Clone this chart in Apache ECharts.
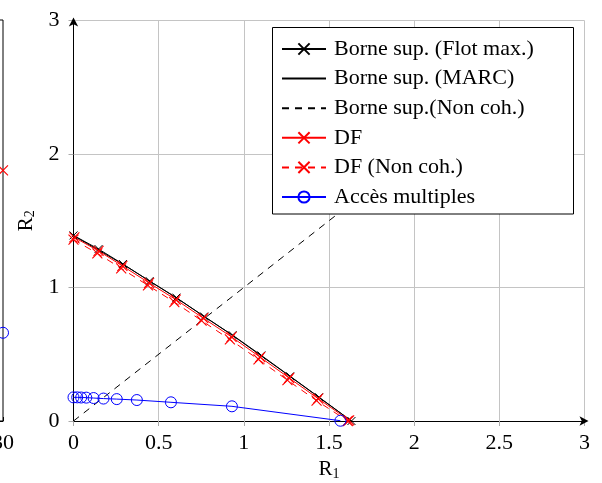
<!DOCTYPE html>
<html>
<head>
<meta charset="utf-8">
<script src="https://cdn.jsdelivr.net/npm/echarts@6/dist/echarts.min.js"></script>
<style>
  html, body { margin: 0; padding: 0; background: #fff; }
  #chart { width: 602px; height: 483px; }
</style>
</head>
<body>
<div id="chart"></div>
<script>
// Axis ticks
const xTicks = [0, 0.5, 1, 1.5, 2, 2.5, 3];
const yTicks = [0, 1, 2, 3];

// Upper bound (max-flow), with markers
const flotMaxX = [0, 0.147, 0.29, 0.447, 0.604, 0.767, 0.934, 1.103, 1.272, 1.442, 1.632];
const flotMaxY = [1.39, 1.288, 1.176, 1.048, 0.924, 0.783, 0.643, 0.491, 0.335, 0.178, 0.0];

// Upper bound (MARC)
const marcX = [0, 0.29, 0.604, 0.934, 1.272, 1.632];
const marcY = [1.388, 1.174, 0.922, 0.641, 0.333, 0.0];

// Upper bound, non-coherent
const nonCohX = [0, 2.5];
const nonCohY = [0, 2.5];

// DF
const dfX = [0.005, 0.147, 0.287, 0.444, 0.600, 0.762, 0.928, 1.096, 1.266, 1.436, 1.618];
const dfY = [1.375, 1.274, 1.162, 1.034, 0.910, 0.770, 0.630, 0.478, 0.322, 0.168, 0.005];

// DF, non-coherent
const dfNcX = [0, 0.140, 0.280, 0.437, 0.592, 0.752, 0.918, 1.086, 1.256, 1.427, 1.610];
const dfNcY = [1.358, 1.256, 1.143, 1.016, 0.891, 0.752, 0.611, 0.461, 0.306, 0.153, 0.0];

// Multiple access
const maX = [0, 0.022, 0.045, 0.075, 0.118, 0.176, 0.254, 0.372, 0.572, 0.930, 1.567];
const maY = [0.177, 0.177, 0.176, 0.175, 0.172, 0.168, 0.164, 0.157, 0.140, 0.110, 0.002];

// Neighbouring panel (right end of its x range)
const sideX = [30];
const sideDfY = [2.5];
const sideMaY = [0.88];
const sideXTicks = [0, 10, 20, 30];

const names = [
  'Borne sup. (Flot max.)',
  'Borne sup. (MARC)',
  'Borne sup.(Non coh.)',
  'DF',
  'DF (Non coh.)',
  'Accès multiples'
];

const zip = (xs, ys) => xs.map((x, i) => [x, ys[i]]);
const FONT = 'Liberation Serif';
const crossPath = 'path://M0,0L10,10M10,0L0,10';
const gridGray = '#c4c4c4';
const clear = 'rgba(0,0,0,0)';
const dash = [7, 6];

const chart = echarts.init(document.getElementById('chart'), null, { renderer: 'canvas' });

const subRich = { s: { fontFamily: FONT, fontSize: 14, color: '#000', verticalAlign: 'bottom', padding: [9, 0, 0, 0] } };

const mainXAxis = {
  gridIndex: 0, type: 'value', min: xTicks[0], max: xTicks[xTicks.length - 1], interval: 0.5,
  name: 'R{s|1}', nameLocation: 'middle', nameGap: 35,
  nameTextStyle: { fontFamily: FONT, fontSize: 21, color: '#000', rich: subRich },
  axisLine: { show: true, lineStyle: { color: '#000', width: 1 }, symbol: ['none', 'arrow'], symbolSize: [7, 9], symbolOffset: [0, 4] },
  axisTick: { show: true, length: 5, lineStyle: { color: '#aaa' } },
  axisLabel: { fontFamily: FONT, fontSize: 22, color: '#000', margin: 11, formatter: v => String(v) },
  splitLine: { show: true, lineStyle: { color: gridGray, width: 1 } }
};

const mainYAxis = {
  gridIndex: 0, type: 'value', min: yTicks[0], max: yTicks[yTicks.length - 1], interval: 1,
  name: 'R{s|2}', nameLocation: 'middle', nameGap: 35, nameRotate: 90,
  nameTextStyle: { fontFamily: FONT, fontSize: 21, color: '#000', rich: subRich },
  axisLine: { show: true, lineStyle: { color: '#000', width: 1 }, symbol: ['none', 'arrow'], symbolSize: [7, 9], symbolOffset: [0, 3] },
  axisTick: { show: true, length: 5, lineStyle: { color: '#aaa' } },
  axisLabel: { fontFamily: FONT, fontSize: 22, color: '#000', margin: 14 },
  splitLine: { show: true, lineStyle: { color: gridGray, width: 1 } }
};

const redCross = { color: '#ff0000', borderColor: '#ff0000', borderWidth: 1.1 };
const blueRing = { color: clear, borderColor: '#0000ff', borderWidth: 1 };

const option = {
  animation: false,
  backgroundColor: '#fff',
  grid: [
    { left: 73.5, right: 17.5, top: 20.5, bottom: 62, containLabel: false, outerBoundsMode: 'none' },
    { left: -197, width: 200, top: 20, bottom: 62, show: true, borderColor: '#000', borderWidth: 1,
      backgroundColor: 'transparent', containLabel: false, outerBoundsMode: 'none' }
  ],
  xAxis: [
    mainXAxis,
    {
      gridIndex: 1, type: 'value', min: sideXTicks[0], max: sideXTicks[sideXTicks.length - 1], interval: 10,
      axisLine: { show: true, lineStyle: { color: '#000' } },
      axisTick: { show: true, inside: true, length: 4, lineStyle: { color: '#000' } },
      axisLabel: { fontFamily: FONT, fontSize: 22, color: '#000', margin: 11 },
      splitLine: { show: false }
    }
  ],
  yAxis: [
    mainYAxis,
    {
      gridIndex: 1, type: 'value', position: 'right', min: 0, max: 4, interval: 1,
      axisLine: { show: true, lineStyle: { color: '#000' } },
      axisTick: { show: true, inside: true, length: 4, lineStyle: { color: '#000' } },
      axisLabel: { show: false },
      splitLine: { show: false }
    }
  ],
  legend: {
    orient: 'vertical', left: 281, top: 38, padding: 0, z: 6,
    itemWidth: 44, itemHeight: 14, itemGap: 7.6,
    textStyle: { fontFamily: FONT, fontSize: 22, color: '#000', padding: [0, 0, 0, 3] },
    data: names
  },
  graphic: [{
    type: 'rect', z: 4,
    shape: { x: 272.5, y: 27.5, width: 301, height: 186.5 },
    style: { fill: '#fff', stroke: '#000', lineWidth: 1 }
  }],
  series: [
    {
      name: names[0], type: 'line', xAxisIndex: 0, yAxisIndex: 0, z: 3,
      data: zip(flotMaxX, flotMaxY),
      symbol: crossPath, symbolSize: 8,
      lineStyle: { color: '#000', width: 1 },
      itemStyle: { color: '#000', borderColor: '#000', borderWidth: 1 }
    },
    {
      name: names[1], type: 'line', xAxisIndex: 0, yAxisIndex: 0, z: 3,
      data: zip(marcX, marcY), symbol: 'circle', showSymbol: false,
      lineStyle: { color: '#000', width: 1 },
      itemStyle: { color: clear, borderColor: clear, borderWidth: 0 }
    },
    {
      name: names[2], type: 'line', xAxisIndex: 0, yAxisIndex: 0, z: 2,
      data: zip(nonCohX, nonCohY), symbol: 'circle', showSymbol: false,
      lineStyle: { color: '#000', width: 1, type: dash },
      itemStyle: { color: clear, borderColor: clear, borderWidth: 0 }
    },
    {
      name: names[3], type: 'line', xAxisIndex: 0, yAxisIndex: 0, z: 3,
      data: zip(dfX, dfY),
      symbol: crossPath, symbolSize: 10,
      lineStyle: { color: '#ff0000', width: 1 },
      itemStyle: redCross
    },
    {
      name: names[4], type: 'line', xAxisIndex: 0, yAxisIndex: 0, z: 3,
      data: zip(dfNcX, dfNcY),
      symbol: crossPath, symbolSize: 10,
      lineStyle: { color: '#ff0000', width: 1, type: dash },
      itemStyle: redCross
    },
    {
      name: names[5], type: 'line', xAxisIndex: 0, yAxisIndex: 0, z: 3,
      data: zip(maX, maY),
      symbol: 'circle', symbolSize: 11,
      lineStyle: { color: '#0000ff', width: 1 },
      itemStyle: blueRing
    },
    {
      name: names[3], type: 'line', xAxisIndex: 1, yAxisIndex: 1, z: 3,
      data: zip(sideX, sideDfY), clip: false,
      symbol: crossPath, symbolSize: 10,
      lineStyle: { color: '#ff0000', width: 1 },
      itemStyle: redCross
    },
    {
      name: names[5], type: 'line', xAxisIndex: 1, yAxisIndex: 1, z: 3,
      data: zip(sideX, sideMaY), clip: false,
      symbol: 'circle', symbolSize: 11,
      lineStyle: { color: '#0000ff', width: 1 },
      itemStyle: blueRing
    }
  ]
};

chart.setOption(option);
</script>
</body>
</html>
